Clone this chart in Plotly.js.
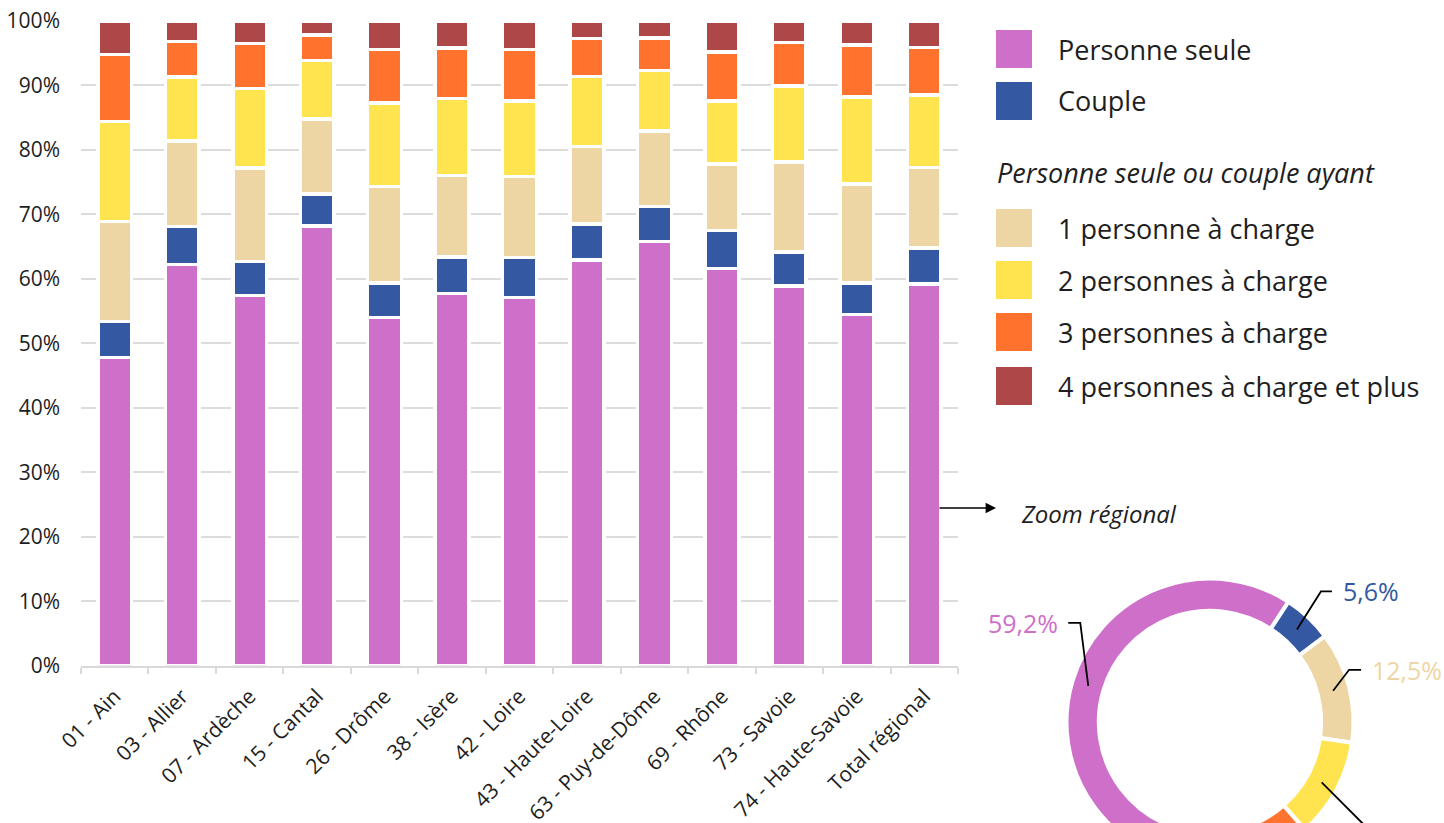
<!DOCTYPE html>
<html>
<head>
<meta charset="utf-8">
<script src="https://cdn.plot.ly/plotly-3.0.1.min.js"></script>
<style>
html,body{margin:0;padding:0;overflow:hidden;background:#fff;}
#chart{width:1444px;height:880px;}
</style>
</head>
<body>
<div id="chart"></div>
<script>
// ---------- DATA ----------
const categories = ["01 - Ain","03 - Allier","07 - Ardèche","15 - Cantal","26 - Drôme","38 - Isère","42 - Loire","43 - Haute-Loire","63 - Puy-de-Dôme","69 - Rhône","73 - Savoie","74 - Haute-Savoie","Total régional"];
const seriesNames = ["Personne seule","Couple","1 personne à charge","2 personnes à charge","3 personnes à charge","4 personnes à charge et plus"];
const personneSeule = [47.8,62.2,57.4,68.2,54.0,57.7,57.1,62.9,65.8,61.6,58.9,54.5,59.2];
const couple        = [ 5.6, 5.9, 5.3, 5.0, 5.4, 5.7, 6.2, 5.6, 5.4, 5.9, 5.3, 4.9, 5.6];
const unePers       = [15.5,13.3,14.5,11.6,14.9,12.6,12.6,12.0,11.7,10.3,13.9,15.3,12.5];
const deuxPers      = [15.5, 9.9,12.3, 9.1,13.0,12.0,11.7,10.9, 9.4, 9.8,11.8,13.5,11.2];
const troisPers     = [10.4, 5.5, 7.0, 3.9, 8.3, 7.8, 8.0, 5.9, 5.1, 7.6, 6.8, 8.1, 7.4];
const quatrePlus    = [ 5.2, 3.2, 3.5, 2.2, 4.4, 4.2, 4.4, 2.7, 2.6, 4.8, 3.3, 3.7, 4.1];
const seriesValues = [personneSeule, couple, unePers, deuxPers, troisPers, quatrePlus];
const colors = ["#CE70C9","#3558A2","#EDD6A4","#FFE450","#FF732E","#AE4747"];
const legendGroupTitle = "Personne seule ou couple ayant";
const zoomLabel = "Zoom régional";

// ---------- LAYOUT HELPERS ----------
const W = 1444, H = 880, ML = 81, MT = 21;
const PW = W - ML, PH = H - MT;
const px2x = p => (p - ML) / PW;
const px2y = p => (H - p) / PH;
const FONT = "Open Sans, sans-serif";
const TXT = "#1e1e1e";

// ---------- BAR TRACES ----------
const traces = seriesValues.map((vals, i) => ({
  type: "bar",
  x: categories,
  y: vals,
  name: seriesNames[i],
  marker: {color: colors[i], line: {color: "#ffffff", width: 3.5}},
  showlegend: false,
  hoverinfo: "x+y+name"
}));

// ---------- DONUT (regional total) ----------
const last = categories.length - 1;
const regional = seriesValues.map(s => s[last]);
const cx = 1210, cy = 722, R = 143.5;
traces.push({
  type: "pie",
  values: regional,
  labels: seriesNames,
  marker: {colors: colors, line: {color: "#ffffff", width: 4}},
  hole: 0.775,
  sort: false,
  direction: "clockwise",
  rotation: 180,
  textinfo: "none",
  showlegend: false,
  domain: {x: [px2x(cx - R), px2x(cx + R)], y: [px2y(cy + R), px2y(cy - R)]}
});

// ---------- ANNOTATIONS & SHAPES ----------
const annotations = [];
const shapes = [];

// custom legend
const legendRows = [49, 101, 228, 280, 332, 386];
seriesNames.forEach((n, i) => {
  const yc = legendRows[i];
  shapes.push({type: "rect", xref: "paper", yref: "paper",
    x0: px2x(996), x1: px2x(1032), y0: px2y(yc + 19), y1: px2y(yc - 19),
    fillcolor: colors[i], line: {width: 0}});
  annotations.push({xref: "paper", yref: "paper", x: px2x(1056), y: px2y(yc),
    xanchor: "left", yanchor: "middle", showarrow: false, text: n,
    font: {family: FONT, size: 27, color: TXT}});
});
annotations.push({xref: "paper", yref: "paper", x: px2x(995), y: px2y(172),
  xanchor: "left", yanchor: "middle", showarrow: false, text: "<i>" + legendGroupTitle + "</i>",
  font: {family: FONT, size: 27, color: TXT}});

// "Zoom régional" arrow + text
annotations.push({xref: "paper", yref: "paper", x: px2x(996), y: px2y(508),
  ax: -58, ay: 0, text: "", showarrow: true, arrowhead: 2, arrowsize: 1.6,
  arrowwidth: 1.3, arrowcolor: "#000", standoff: 0, startstandoff: 0});
annotations.push({xref: "paper", yref: "paper", x: px2x(1019), y: px2y(513),
  xanchor: "left", yanchor: "middle", showarrow: false, text: "<i>" + zoomLabel + "</i>",
  font: {family: FONT, size: 24, color: TXT}});

// donut leader lines and labels
const fmt = v => v.toFixed(1).replace(".", ",") + "%";
const leaders = [
  {ex: -8, ey: 63, hx: -12, txt: true},
  {ex: 24, ey: 38, hx: 11, txt: true},
  {ex: 16, ey: 21, hx: 12, txt: true},
  {ex: 60, ey: -60, hx: 12, txt: false}
];
const total = regional.reduce((a, b) => a + b, 0);
let cum = 0;
const Rtip = 127;
regional.forEach((v, i) => {
  const mid = cum + v / 2;
  cum += v;
  const L = leaders[i];
  if (!L) return;
  const th = (180 + 360 * mid / total) * Math.PI / 180;
  const tx = cx + Rtip * Math.sin(th), ty = cy - Rtip * Math.cos(th);
  shapes.push({type: "path", xref: "paper", yref: "paper",
    xsizemode: "pixel", ysizemode: "pixel", xanchor: px2x(tx), yanchor: px2y(ty),
    path: `M0,0 L${L.ex},${L.ey} L${L.ex + L.hx},${L.ey}`,
    line: {color: "#000", width: 1.8}});
  if (L.txt) {
    const left = L.hx > 0;
    annotations.push({xref: "paper", yref: "paper", x: px2x(tx), y: px2y(ty),
      xshift: L.ex + L.hx + (left ? 9 : -8), yshift: L.ey,
      xanchor: left ? "left" : "right", yanchor: "middle", showarrow: false,
      text: fmt(v), font: {family: FONT, size: 25, color: colors[i]}});
  }
});

const layout = {
  width: W, height: H,
  margin: {l: ML, r: 0, t: MT, b: 0, pad: 0},
  paper_bgcolor: "#fff", plot_bgcolor: "#fff",
  barmode: "stack",
  bargap: 0.5,
  font: {family: FONT, color: TXT},
  showlegend: false,
  xaxis: {
    domain: [0, px2x(958)],
    type: "category",
    range: [-0.5, categories.length - 0.5],
    tickangle: -45,
    tickfont: {family: FONT, size: 21, color: TXT},
    showline: true, linecolor: "#d9d9d9", linewidth: 2,
    ticks: "outside", tickson: "boundaries", ticklen: 6, tickwidth: 2, tickcolor: "#d9d9d9",
    ticklabelstandoff: 8,
    showgrid: false, zeroline: false, fixedrange: true
  },
  yaxis: {
    domain: [px2y(665.7), 1],
    range: [0, 100],
    dtick: 10,
    ticksuffix: "%",
    tickfont: {family: FONT, size: 21, color: TXT},
    showgrid: true, gridcolor: "#dcdcdc", gridwidth: 2,
    zeroline: false, showline: false, ticks: "",
    ticklabelstandoff: 20, fixedrange: true
  },
  annotations: annotations,
  shapes: shapes
};

Plotly.newPlot("chart", traces, layout, {displayModeBar: false, staticPlot: true});
</script>
</body>
</html>
